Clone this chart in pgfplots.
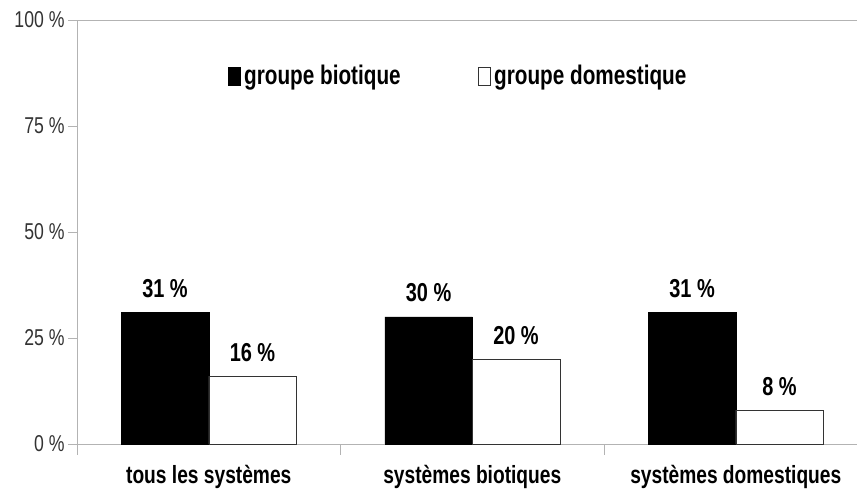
\documentclass[border=0pt]{standalone}
\usepackage{fontspec}
\setmainfont{Liberation Sans}[FakeStretch=0.77]
\usepackage{pgfplots}
\pgfplotsset{compat=1.18}
\definecolor{axgray}{HTML}{B3B3B3}
\definecolor{txtgray}{HTML}{333333}
\begin{document}
\begin{tikzpicture}
\begin{axis}[
 at={(77bp,47bp)}, anchor=south west,
 scale only axis, width=780bp, height=424bp,
 xmin=-0.5, xmax=2.46, ymin=0, ymax=100,
 clip=false,
 axis x line*=bottom, axis y line*=left,
 axis line style={axgray, line width=0.8bp, -},
 ytick={0,25,50,75,100},
 yticklabel={\pgfmathprintnumber{\tick}\ \%},
 /pgf/number format/assume math mode=true,
 yticklabel style={font=\fontsize{23}{27}\selectfont, text=txtgray},
 ytick style={axgray, line width=0.8bp},
 major tick length=9bp, tick align=outside,
 xtick={0,1,2},
 xticklabels={tous les systèmes, systèmes biotiques, systèmes domestiques},
 xtick style={draw=none},
 xticklabel style={font=\bfseries\fontsize{25}{29}\selectfont, text=black, yshift=-9bp},
 ybar,
 bar width=0.332,
 nodes near coords={\pgfmathprintnumber{\pgfplotspointmeta}\ \%},
 every node near coord/.append style={font=\bfseries\fontsize{26}{30}\selectfont, text=black, yshift=11bp},
 legend style={draw=none, fill=none, at={(0.4885,0.87)}, anchor=center, legend columns=2,
   font=\bfseries\fontsize{27}{31}\selectfont,
   /tikz/every even column/.append style={column sep=75bp}},
 legend cell align=left,
 legend image code/.code={\draw[#1, line width=0.6bp] (0bp,-10bp) rectangle (12bp,8bp); \path (14bp,0bp);},
]
\addplot[fill=black, draw=black, bar shift=-0.166] coordinates {(0,31) (1,30) (2,31)};
\addlegendentry{groupe biotique}
\addplot[fill=white, draw=txtgray, bar shift=0.166] coordinates {(0,16) (1,20) (2,8)};
\addlegendentry{groupe domestique}
\draw[axgray, line width=0.8bp] (rel axis cs:0,1) -- (rel axis cs:1,1);
\draw[axgray, line width=0.8bp] (rel axis cs:0,0) -- ([yshift=-11bp]rel axis cs:0,0);
\draw[axgray, line width=0.8bp] (axis cs:0.5,0) -- ([yshift=-11bp]axis cs:0.5,0);
\draw[axgray, line width=0.8bp] (axis cs:1.5,0) -- ([yshift=-11bp]axis cs:1.5,0);
\end{axis}
\pgfresetboundingbox
\path[use as bounding box] (0,0) rectangle (857bp,491bp);
\end{tikzpicture}
\end{document}
